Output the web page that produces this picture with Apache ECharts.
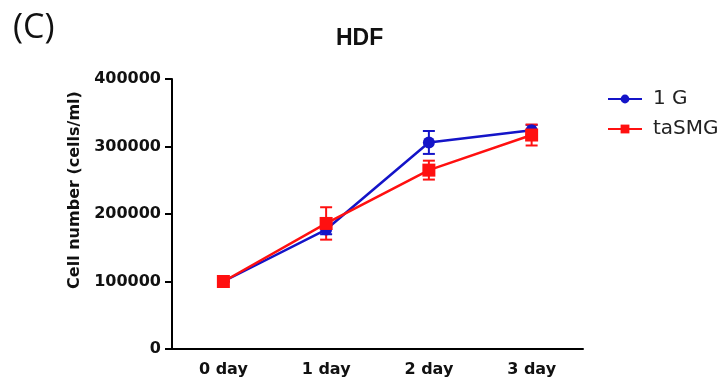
<!DOCTYPE html>
<html><head><meta charset="utf-8">
<script src="https://cdn.jsdelivr.net/npm/echarts@6/dist/echarts.min.js"></script>
<style>html,body{margin:0;padding:0;background:#fff}#c{width:727px;height:387px}</style>
</head><body><div id="c"></div>
<script>
const categories = ['0 day', '1 day', '2 day', '3 day'];
const g1Mean = [100000, 177000, 306000, 324000];
const g1Err = [0, 7000, 17000, 8000];
const taMean = [100000, 186000, 265000, 317000];
const taErr = [0, 24000, 14000, 15500];
const yTicks = [0, 100000, 200000, 300000, 400000];

const chart = echarts.init(document.getElementById('c'), null, {renderer: 'canvas'});
const font = 'DejaVu Sans, sans-serif';

function errSeries(name, mean, err, color) {
  return {
    type: 'custom', name: name + ' err', silent: true, z: 1,
    data: mean.map((m, i) => [i, m - err[i], m + err[i]]),
    renderItem: function (params, api) {
      const lo = api.coord([api.value(0), api.value(1)]);
      const hi = api.coord([api.value(0), api.value(2)]);
      const w = 6;
      const st = {stroke: color, lineWidth: 2};
      return {type: 'group', children: [
        {type: 'line', shape: {x1: lo[0], y1: lo[1], x2: hi[0], y2: hi[1]}, style: st},
        {type: 'line', shape: {x1: lo[0] - w, y1: lo[1], x2: lo[0] + w, y2: lo[1]}, style: st},
        {type: 'line', shape: {x1: hi[0] - w, y1: hi[1], x2: hi[0] + w, y2: hi[1]}, style: st}
      ]};
    }
  };
}

chart.setOption({
  animation: false,
  title: [
    {text: 'HDF', left: 336, top: 27, padding: 0,
     textStyle: {fontFamily: 'Liberation Sans, Arial, sans-serif', fontWeight: 'bold', fontSize: 23, color: '#111'}},
    {text: '(C)', left: 8, top: 6,
     textStyle: {fontFamily: 'Open Sans, sans-serif', fontWeight: 'normal', fontSize: 34, color: '#111'}}
  ],
  legend: {
    orient: 'vertical', left: 602, top: 84, itemGap: 10, itemWidth: 34, itemHeight: 11,
    data: ['1 G', 'taSMG'],
    textStyle: {fontFamily: font, fontSize: 20, color: '#222', padding: [0, 0, 0, 6]}
  },
  grid: {left: 172, right: 144, top: 79, bottom: 38},
  xAxis: {
    type: 'category', data: categories, boundaryGap: true,
    axisLine: {lineStyle: {color: '#000', width: 2}},
    axisTick: {alignWithLabel: true, length: 8, lineStyle: {color: '#000', width: 2}},
    axisLabel: {fontFamily: font, fontWeight: 'bold', fontSize: 16, color: '#111', margin: 13}
  },
  yAxis: {
    type: 'value', min: yTicks[0], max: yTicks[yTicks.length - 1], interval: 100000,
    name: 'Cell number (cells/ml)', nameLocation: 'middle', nameGap: 85,
    nameTextStyle: {fontFamily: font, fontWeight: 'bold', fontSize: 16, color: '#111', padding: [0, 0, 0, 48]},
    axisLine: {show: true, lineStyle: {color: '#000', width: 2}},
    axisTick: {show: true, length: 7, lineStyle: {color: '#000', width: 2}},
    axisLabel: {fontFamily: font, fontWeight: 'bold', fontSize: 16, color: '#111', margin: 11,
                formatter: v => String(v)},
    splitLine: {show: false}
  },
  series: [
    errSeries('1 G', g1Mean, g1Err, '#1414c8'),
    errSeries('taSMG', taMean, taErr, '#ff1010'),
    {name: '1 G', type: 'line', data: g1Mean, symbol: 'circle', symbolSize: 12, z: 3,
     lineStyle: {color: '#1414c8', width: 2.5}, itemStyle: {color: '#1414c8'}},
    {name: 'taSMG', type: 'line', data: taMean, symbol: 'rect', symbolSize: 13, z: 4,
     lineStyle: {color: '#ff1010', width: 2.5}, itemStyle: {color: '#ff1010'}}
  ]
});
</script></body></html>
